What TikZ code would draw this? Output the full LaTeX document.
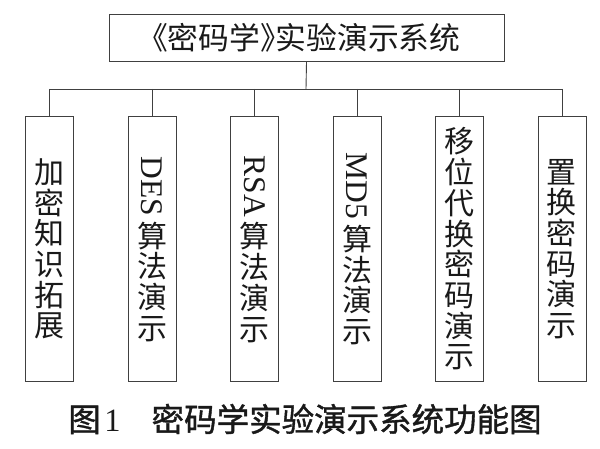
\documentclass[tikz,border=0pt]{standalone}
\usepackage{fontspec}
\usepackage{graphicx}
\setmainfont{Liberation Serif}
\newfontfamily\cjk{Noto Sans CJK SC}
\newfontfamily\cjktitle[RawFeature=+halt]{Noto Sans CJK SC}
\newfontfamily\cjkbold[FakeBold=1.2]{Noto Sans CJK SC}
\newcommand\modulefont{\cjk\fontsize{30}{30.7}\selectfont\setlength{\lineskip}{5.7pt}}
\newcommand\sideways[1]{\rotatebox{-90}{\rmfamily\fontsize{31.5}{31.5}\selectfont #1}}
\tikzstyle{link}=[draw=black!75, line width=0.9pt]
\tikzstyle{system}=[link, minimum width=395pt, minimum height=47.7pt, inner sep=0pt, text=black!90, font=\cjktitle\fontsize{30.8}{30.8}\selectfont]
\tikzstyle{module}=[link, minimum width=48pt, minimum height=265.4pt, inner sep=0pt, align=center, text=black!90, font=\modulefont]
\tikzstyle{caption}=[inner sep=0pt, text=black!90, font=\cjkbold\fontsize{32.5}{32.5}\selectfont]

\begin{document}
\begin{tikzpicture}[x=1pt, y=-1pt]
          \useasboundingbox (0, 0) rectangle (600, 449);
          \node[system] (top) at (306.5, 37.9) {《密码学》实验演示系统};
          \coordinate (bus) at (306, 89);

          \node[module] (m1) at (49.7, 249) {加\\密\\知\\识\\拓\\展};
          \node[module] (m2) at (152.15, 249) {\sideways{DES}\\算\\法\\演\\示};
          \node[module] (m3) at (254.6, 249) {\sideways{RSA}\\算\\法\\演\\示};
          \node[module] (m4) at (357.05, 249) {\sideways{MD5}\\算\\法\\演\\示};
          \node[module] (m5) at (459.5, 249) {移\\位\\代\\换\\密\\码\\演\\示};
          \node[module] (m6) at (561.95, 249) {置\\换\\密\\码\\演\\示};

          \draw[link] (top.south) -- (bus);
          \draw[link] (m1.north |- bus) -- (m6.north |- bus);
          \foreach \i in {1, ..., 6}
            \draw[link] (m\i.north |- bus) -- (m\i.north);

          \node[caption] (title) at (305, 419)
            {图\hspace{3.6pt}{\rmfamily 1}\hspace{31pt}密码学实验演示系统功能图};
        \end{tikzpicture}
\end{document}
